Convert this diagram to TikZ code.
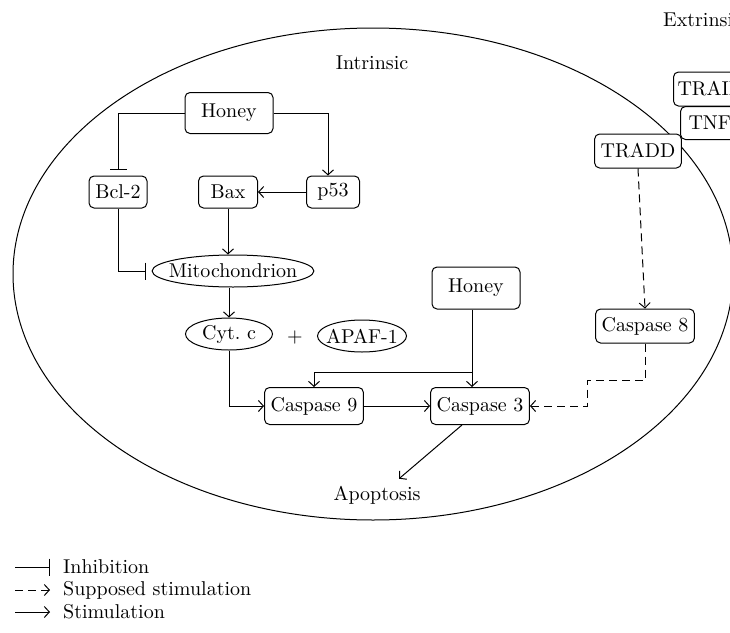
\documentclass[tikz,border=0pt]{standalone}
\usetikzlibrary{shapes.geometric,arrows.meta}
\begin{document}
\begin{tikzpicture}[x=0.5pt,y=-0.5pt,line width=0.5pt,
    box/.style={draw, fill=white, rounded corners=2.5pt, inner xsep=3pt, minimum height=16pt},
    oval/.style={draw, ellipse, inner xsep=-3.5pt, inner ysep=0pt, minimum height=16pt},
    stim/.style={-{Straight Barb[length=2.5pt,width=5.5pt]}},
    inhib/.style={-{Bar[width=8.5pt]}, shorten >=3pt},
    supp/.style={stim, dash pattern=on 4pt off 2.5pt}]
  \useasboundingbox (0,0) rectangle (730,633);
  \clip (0,0) rectangle (730,633);
  % cell
  \draw (373,274) ellipse [x radius=180pt, y radius=123pt];
  \node (intr) at (372,63) {Intrinsic};
  \node[anchor=west] (extr) at (656,20) {Extrinsic};
  %
  \node[box, minimum width=44pt, minimum height=20.5pt] (honeytop) at (229,113) {Honey};
  \node[box, minimum width=29pt] (bcl) at (118,192) {Bcl-2};
  \node[box, minimum width=29.5pt] (bax) at (228,192) {Bax};
  \node[box, minimum width=26.5pt] (p53) at (333,192) {p53};
  \node[oval, minimum width=80.5pt] (mito) at (233,271) {Mitochondrion};
  \node[oval, minimum width=43.5pt] (cytc) at (229,334) {Cyt.\ c};
  \node (plus) at (295,337) {+};
  \node[oval, minimum width=44.5pt] (apaf) at (362,336) {APAF-1};
  \node[box, minimum width=44pt, minimum height=21pt] (honeylow) at (476,288) {Honey};
  \node[box, minimum height=18.5pt] (casp9) at (314,406) {Caspase 9};
  \node[box, minimum height=18.5pt] (casp3) at (480,406) {Caspase 3};
  \node[box, minimum height=17pt] (casp8) at (645,326) {Caspase 8};
  \node[box, minimum height=17pt] (tradd) at (638,151) {TRADD};
  \node[box, anchor=west, inner xsep=2pt, minimum height=17pt] (trail) at (673,89) {TRAIL};
  \node[box, anchor=west, inner xsep=4pt, minimum height=16.5pt] (tnf) at (680,123) {TNF};
  \node (apop) at (377,495) {Apoptosis};
  %
  \coordinate (fork) at (472,372);
  \coordinate (bend) at (587,380);
  \draw[inhib] (honeytop.west) -| (bcl.north);
  \draw[stim] (honeytop.east) -| ([xshift=-2.5pt]p53.north);
  \draw[stim] (p53) -- (bax);
  \draw[stim] (bax.south) -- (bax.south |- mito.north);
  \draw[inhib] (bcl.south) |- (mito.west);
  \draw[stim] (mito.south -| cytc.north) -- (cytc.north);
  \draw[stim] (cytc.south) |- (casp9.west);
  \draw[stim] ([xshift=-2pt]honeylow.south) -- ([xshift=-2pt]honeylow.south |- casp3.north);
  \draw[stim] (fork) -| (casp9.north);
  \draw[stim] (casp9) -- (casp3);
  \draw[stim] ([xshift=-9pt]casp3.south) -- ([xshift=11pt]apop.north);
  \draw[supp] (tradd.south) -- (casp8.north);
  \draw[supp] (casp8.south) |- (bend) |- (casp3.east);
  % legend
  \node[anchor=west] (inhtxt) at (56,567) {Inhibition};
  \node[anchor=west] (supptxt) at (56,590) {Supposed stimulation};
  \node[anchor=west] (stimtxt) at (56,612) {Stimulation};
  \coordinate (leg1) at (15,567);
  \coordinate (leg2) at (15,590);
  \coordinate (leg3) at (15,612);
  \draw[inhib] (leg1) -- (inhtxt.west);
  \draw[supp, shorten >=3pt] (leg2) -- (supptxt.west);
  \draw[stim, shorten >=3pt] (leg3) -- (stimtxt.west);
\end{tikzpicture}
\end{document}
